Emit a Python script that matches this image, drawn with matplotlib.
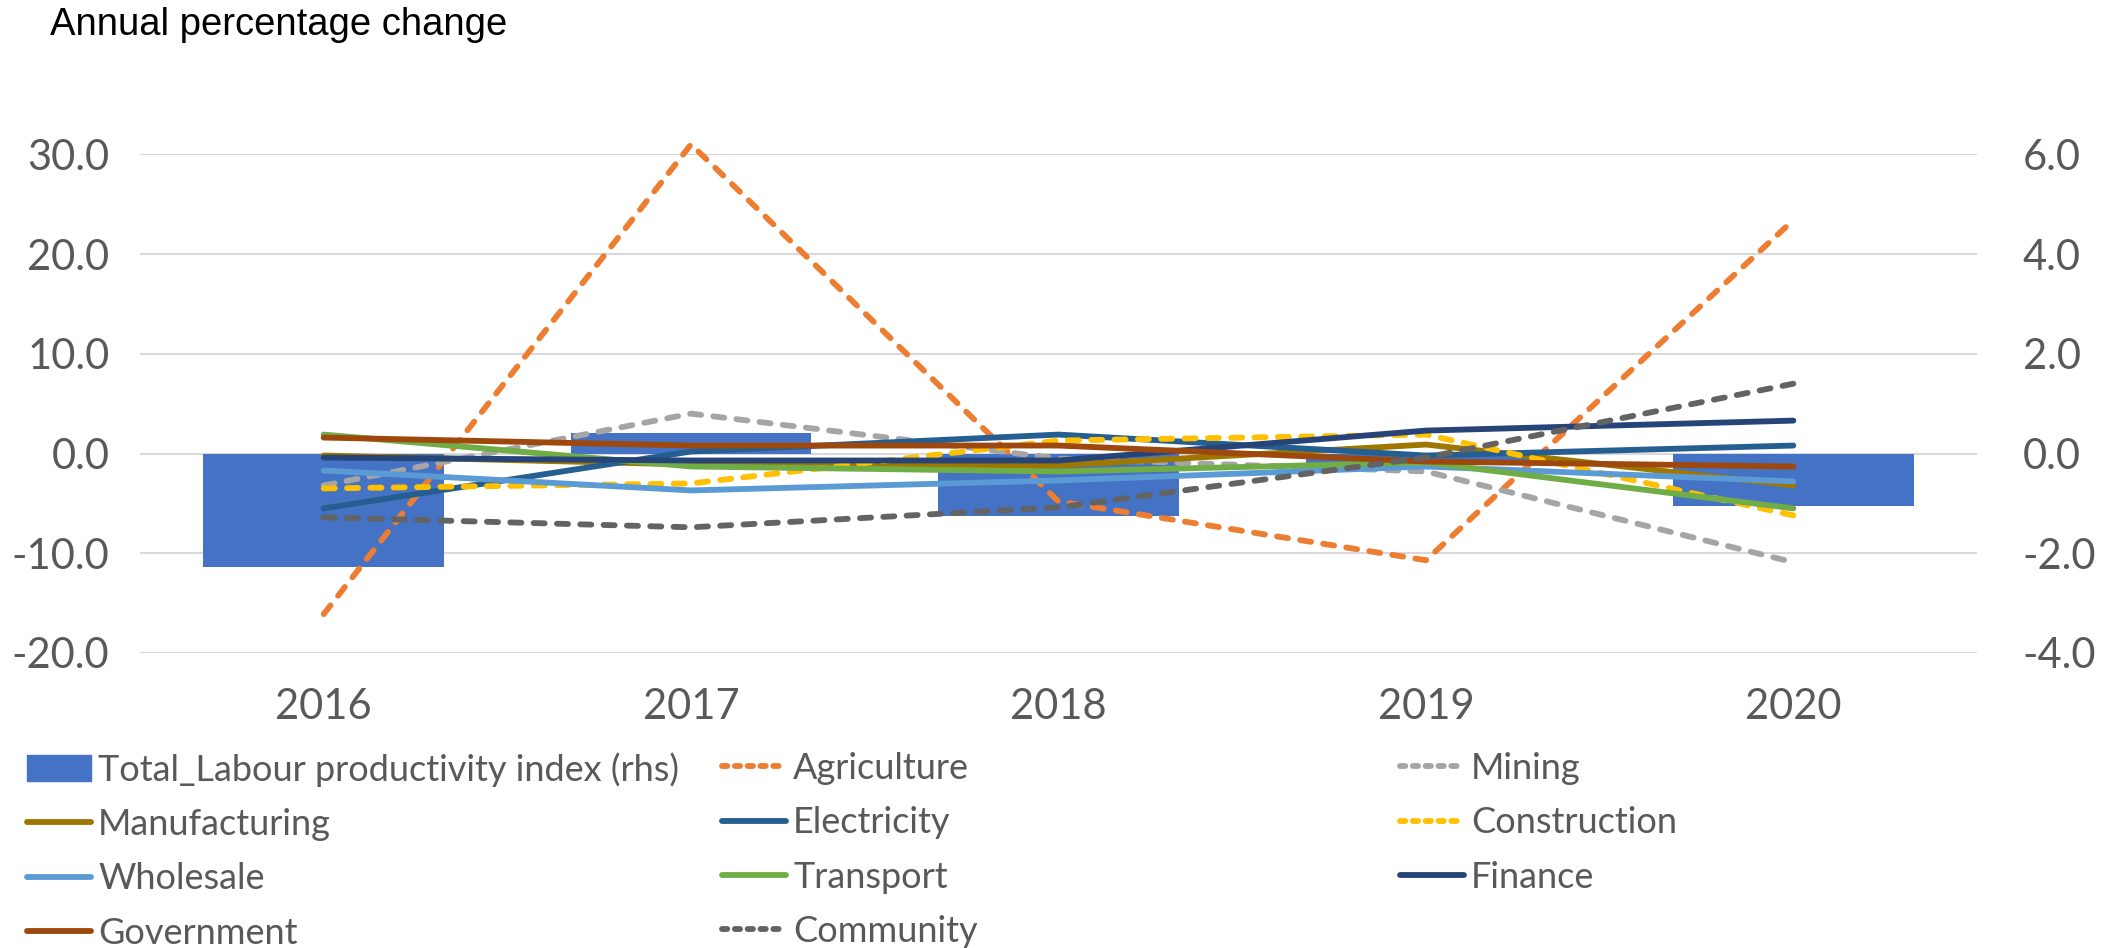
import matplotlib.pyplot as plt
from matplotlib.patches import Patch
from matplotlib.lines import Line2D
import numpy as np

years = ["2016", "2017", "2018", "2019", "2020"]

# bars, right hand scale
total_rhs = [-2.28, 0.42, -1.25, -0.2, -1.05]

# lines, left hand scale
agriculture = [-16.1, 31.0, -4.8, -10.7, 23.4]
mining = [-3.2, 4.0, -0.5, -1.8, -10.9]
manufacturing = [-0.2, -1.1, -1.2, 0.9, -3.2]
electricity = [-5.5, 0.2, 1.9, -0.2, 0.8]
construction = [-3.5, -3.0, 1.3, 1.9, -6.2]
wholesale = [-1.7, -3.7, -2.7, -1.3, -2.8]
transport = [1.9, -1.3, -1.8, -0.9, -5.5]
finance = [-0.4, -0.7, -0.7, 2.3, 3.3]
government = [1.6, 0.8, 0.8, -0.8, -1.3]
community = [-6.4, -7.4, -5.4, -0.4, 7.0]

left_ticks = [-20, -10, 0, 10, 20, 30]
right_ticks = [-4, -2, 0, 2, 4, 6]

series = [
    ("Agriculture", agriculture, "#ED7D31", True),
    ("Mining", mining, "#A5A5A5", True),
    ("Manufacturing", manufacturing, "#9E7700", False),
    ("Electricity", electricity, "#255E91", False),
    ("Construction", construction, "#FFC000", True),
    ("Wholesale", wholesale, "#5B9BD5", False),
    ("Transport", transport, "#70AD47", False),
    ("Finance", finance, "#264478", False),
    ("Government", government, "#9E480E", False),
    ("Community", community, "#636363", True),
]

TXT = "#595959"
LW = 4.2
plt.rcParams['font.family'] = ['Lato', 'DejaVu Sans']

fig = plt.figure(figsize=(21.05, 9.48), dpi=100)
ax2 = fig.add_axes([0.0665, 0.3112, 0.9392 - 0.0665, 0.8372 - 0.3112])
ax = ax2.twinx()
ax.yaxis.tick_left()
ax2.yaxis.tick_right()

x = np.arange(len(years))
ax2.bar(x, total_rhs, width=0.655, color="#4472C4", zorder=2)
ax2.set_ylim(-4, 6)
ax2.set_yticks(right_ticks)
ax2.set_yticklabels([f"{v:.1f}" for v in right_ticks])
ax2.grid(axis="y", color="#D9D9D9", linewidth=1.5, zorder=0)
ax2.set_axisbelow(True)

handles = {}
for name, vals, col, dashed in series:
    if dashed:
        ax.plot(x, vals, color=col, lw=LW, dashes=(1.9, 2.1),
                dash_capstyle="round", solid_capstyle="round", clip_on=False)
    else:
        ax.plot(x, vals, color=col, lw=LW, solid_capstyle="round", clip_on=False)
    handles[name] = Line2D([], [], color=col, lw=LW,
                           dashes=(0.9, 1.3) if dashed else (None, None),
                           dash_capstyle="round", solid_capstyle="round")

ax.set_ylim(-20, 30)
ax.set_yticks(left_ticks)
ax.set_yticklabels([f"{v:.1f}" for v in left_ticks])
ax.set_xlim(-0.5, len(years) - 0.5)
ax2.set_xticks(x)
ax2.set_xticklabels(years)

ax.set_zorder(ax2.get_zorder() + 1)
ax.patch.set_visible(False)

for a in (ax, ax2):
    for s in a.spines.values():
        s.set_visible(False)
    a.tick_params(length=0, labelsize=30, colors=TXT)
ax.tick_params(axis="y", pad=22)
ax2.tick_params(axis="y", pad=33)
ax2.tick_params(axis="x", pad=25)

fig.text(50 / 2105, 1 - 25 / 948, "Annual percentage change",
         fontsize=27.5, family=["Liberation Sans", "DejaVu Sans"],
         color="black", va="center", ha="left")

bar_handle = Patch(color="#4472C4")
cols = [
    [(bar_handle, "Total_Labour productivity index (rhs)"),
     (handles["Manufacturing"], "Manufacturing"),
     (handles["Wholesale"], "Wholesale"),
     (handles["Government"], "Government")],
    [(handles["Agriculture"], "Agriculture"),
     (handles["Electricity"], "Electricity"),
     (handles["Transport"], "Transport"),
     (handles["Community"], "Community")],
    [(handles["Mining"], "Mining"),
     (handles["Construction"], "Construction"),
     (handles["Finance"], "Finance")],
]
col_x = [27 / 2105, 722 / 2105, 1400 / 2105]
for cx, items in zip(col_x, cols):
    fig.legend([h for h, _ in items], [t for _, t in items],
               loc="upper left", bbox_to_anchor=(cx, 1 - 752 / 948),
               frameon=False, fontsize=26, labelcolor=TXT,
               handlelength=1.77, handletextpad=0.2, labelspacing=0.59,
               borderpad=0, borderaxespad=0)

fig.savefig("out.png", dpi=100)
